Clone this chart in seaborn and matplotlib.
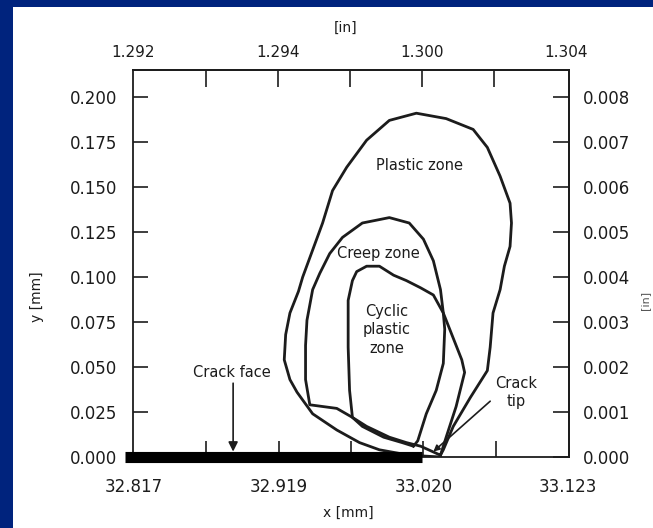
import matplotlib
matplotlib.use("Agg")
import matplotlib.pyplot as plt
from matplotlib.patches import Rectangle
import pandas as pd
import seaborn as sns

# ---------------- data (x, y in mm) ----------------
plastic_x = [33.033, 33.035, 33.042, 33.054, 33.066, 33.068, 33.070, 33.075, 33.078, 33.082,
             33.083, 33.082, 33.075, 33.066, 33.056, 33.037, 33.016, 32.997, 32.981, 32.967,
             32.957, 32.950, 32.943, 32.936, 32.933, 32.927, 32.924, 32.923, 32.927, 32.932,
             32.943, 32.960, 32.976, 32.990, 33.011, 33.033]
plastic_y = [0.001, 0.004, 0.017, 0.033, 0.048, 0.061, 0.080, 0.093, 0.106, 0.117,
             0.130, 0.141, 0.156, 0.172, 0.182, 0.188, 0.191, 0.187, 0.176, 0.161,
             0.148, 0.130, 0.115, 0.100, 0.092, 0.080, 0.068, 0.054, 0.043, 0.036,
             0.024, 0.015, 0.008, 0.004, 0.001, 0.000]

creep_x = [33.033, 33.037, 33.044, 33.050, 33.048, 33.041, 33.035, 33.033, 33.028, 33.021,
           33.011, 32.997, 32.978, 32.964, 32.955, 32.948, 32.943, 32.939, 32.938, 32.938,
           32.941, 32.960, 32.971, 32.981, 32.997, 33.009, 33.019, 33.033]
creep_y = [0.001, 0.011, 0.028, 0.047, 0.054, 0.068, 0.080, 0.093, 0.109, 0.121,
           0.130, 0.133, 0.130, 0.122, 0.113, 0.102, 0.093, 0.076, 0.062, 0.043,
           0.029, 0.027, 0.022, 0.017, 0.011, 0.008, 0.006, 0.001]

cyclic_x = [33.014, 33.006, 32.993, 32.978, 32.971, 32.969, 32.968, 32.968, 32.971, 32.974,
            32.981, 32.990, 33.000, 33.009, 33.019, 33.028, 33.035, 33.036, 33.035, 33.030,
            33.023, 33.017, 33.014]
cyclic_y = [0.006, 0.008, 0.011, 0.017, 0.022, 0.037, 0.061, 0.087, 0.098, 0.103,
            0.106, 0.106, 0.101, 0.098, 0.094, 0.090, 0.080, 0.071, 0.052, 0.037,
            0.024, 0.009, 0.006]

crack_face_x = [32.811, 33.020]
crack_face_y = [0.0, 0.0]

x_ticks_mm = [32.817, 32.868, 32.919, 32.970, 33.021, 33.072, 33.123]
x_labels_mm = ["32.817", "", "32.919", "", "33.020", "", "33.123"]
x_ticks_in = [1.292, 1.294, 1.296, 1.298, 1.300, 1.302, 1.304]
x_labels_in = ["1.292", "", "1.294", "", "1.300", "", "1.304"]
y_ticks_mm = [0.000, 0.025, 0.050, 0.075, 0.100, 0.125, 0.150, 0.175, 0.200]
y_labels_mm = ["0.000", "0.025", "0.050", "0.075", "0.100", "0.125", "0.150", "0.175", "0.200"]
y_ticks_in = [0.000, 0.001, 0.002, 0.003, 0.004, 0.005, 0.006, 0.007, 0.008]
y_labels_in = ["0.000", "0.001", "0.002", "0.003", "0.004", "0.005", "0.006", "0.007", "0.008"]

# ---------------- style ----------------
sns.set_theme(style="white")
plt.rcParams["font.family"] = ["DejaVu Sans"]
INK = "#1c1c1c"
BLUE = "#00237D"

W, H = 653, 528
fig = plt.figure(figsize=(W / 100, H / 100), dpi=100, facecolor="white")
fig.patches.append(Rectangle((0, 0), 13 / W, 1, transform=fig.transFigure,
                             facecolor=BLUE, edgecolor="none", zorder=-5))
fig.patches.append(Rectangle((0, 1 - 7 / H), 1, 7 / H, transform=fig.transFigure,
                             facecolor=BLUE, edgecolor="none", zorder=-5))

ax = fig.add_axes([133 / W, 1 - 457 / H, 436 / W, 387 / H])
ax.set_facecolor("white")

zones = [("plastic", plastic_x, plastic_y),
         ("creep", creep_x, creep_y),
         ("cyclic", cyclic_x, cyclic_y)]
for name, xs, ys in zones:
    df = pd.DataFrame({"x": xs, "y": ys})
    sns.lineplot(data=df, x="x", y="y", sort=False, estimator=None, ax=ax,
                 color=INK, linewidth=2.0, solid_joinstyle="round")

# crack face bar
ax.plot(crack_face_x, crack_face_y, color="black", linewidth=8,
        solid_capstyle="butt", clip_on=False, zorder=5)

ax.set_xlim(32.8165, 33.1235)
ax.set_ylim(0, 0.215)
ax.set_xlabel("")
ax.set_ylabel("")

for s in ax.spines.values():
    s.set_color(INK)
    s.set_linewidth(1.3)

ax.set_xticks(x_ticks_mm)
ax.set_xticklabels(x_labels_mm)
ax.set_yticks(y_ticks_mm)
ax.set_yticklabels(y_labels_mm)
ax.tick_params(axis="x", direction="in", length=11.5, width=1.2, color=INK,
               labelsize=12, labelcolor=INK, pad=15, bottom=True)
ax.tick_params(axis="y", direction="in", length=11, width=1.2, color=INK,
               labelsize=12, labelcolor=INK, pad=11.5, left=True)

# top axis in inches
secx = ax.secondary_xaxis("top", functions=(lambda v: v / 25.4, lambda v: v * 25.4))
secx.set_xticks(x_ticks_in)
secx.set_xticklabels(x_labels_in)
secx.tick_params(direction="in", length=12, width=1.2, color=INK,
                 labelsize=11, labelcolor=INK, pad=7.5)
secx.spines["top"].set_color(INK)
secx.spines["top"].set_linewidth(1.3)

# right axis in inches (as drawn in the figure)
secy = ax.secondary_yaxis("right", functions=(lambda v: v / 25.0, lambda v: v * 25.0))
secy.set_yticks(y_ticks_in)
secy.set_yticklabels(y_labels_in)
secy.tick_params(direction="in", length=11.5, width=1.2, color=INK,
                 labelsize=12, labelcolor=INK, pad=10)
secy.spines["right"].set_color(INK)
secy.spines["right"].set_linewidth(1.3)

# the end ticks coincide with the frame: hide their marks
for axis in (ax.xaxis, secx.xaxis):
    ticks = axis.get_major_ticks()
    for t in (ticks[0], ticks[-1]):
        t.tick1line.set_visible(False)
        t.tick2line.set_visible(False)

# annotations
txt = dict(color=INK, fontsize=10.5, ha="center", va="center")
ax.text(33.0185, 0.162, "Plastic zone", **txt)
ax.text(32.989, 0.113, "Creep zone", **txt)
ax.text(32.995, 0.0706, "Cyclic\nplastic\nzone", linespacing=1.3, **txt)
ax.text(32.886, 0.047, "Crack face", **txt)
ax.text(33.086, 0.0356, "Crack\ntip", linespacing=1.25, **txt)

ax.annotate("", xy=(32.887, 0.003), xytext=(32.887, 0.041),
            arrowprops=dict(arrowstyle="-|>", color=INK, lw=1.2,
                            mutation_scale=14, shrinkA=0, shrinkB=0), zorder=6)
ax.annotate("", xy=(33.028, 0.003), xytext=(33.068, 0.031),
            arrowprops=dict(arrowstyle="-|>", color=INK, lw=1.2,
                            mutation_scale=9, shrinkA=0, shrinkB=0), zorder=6)

# axis titles
fig.text(37 / W, 1 - 297 / H, "y [mm]", rotation=90, ha="center", va="center",
         fontsize=10, color=INK)
fig.text(348 / W, 1 - 513 / H, "x [mm]", ha="center", va="center",
         fontsize=10, color=INK)
fig.text(346 / W, 1 - 28 / H, "[in]", ha="center", va="center",
         fontsize=10, color=INK)
fig.text(645 / W, 1 - 300 / H, "[in]", rotation=90, ha="center", va="center",
         fontsize=8, color="#555555")

fig.savefig("out.png", dpi=100, facecolor="white")
